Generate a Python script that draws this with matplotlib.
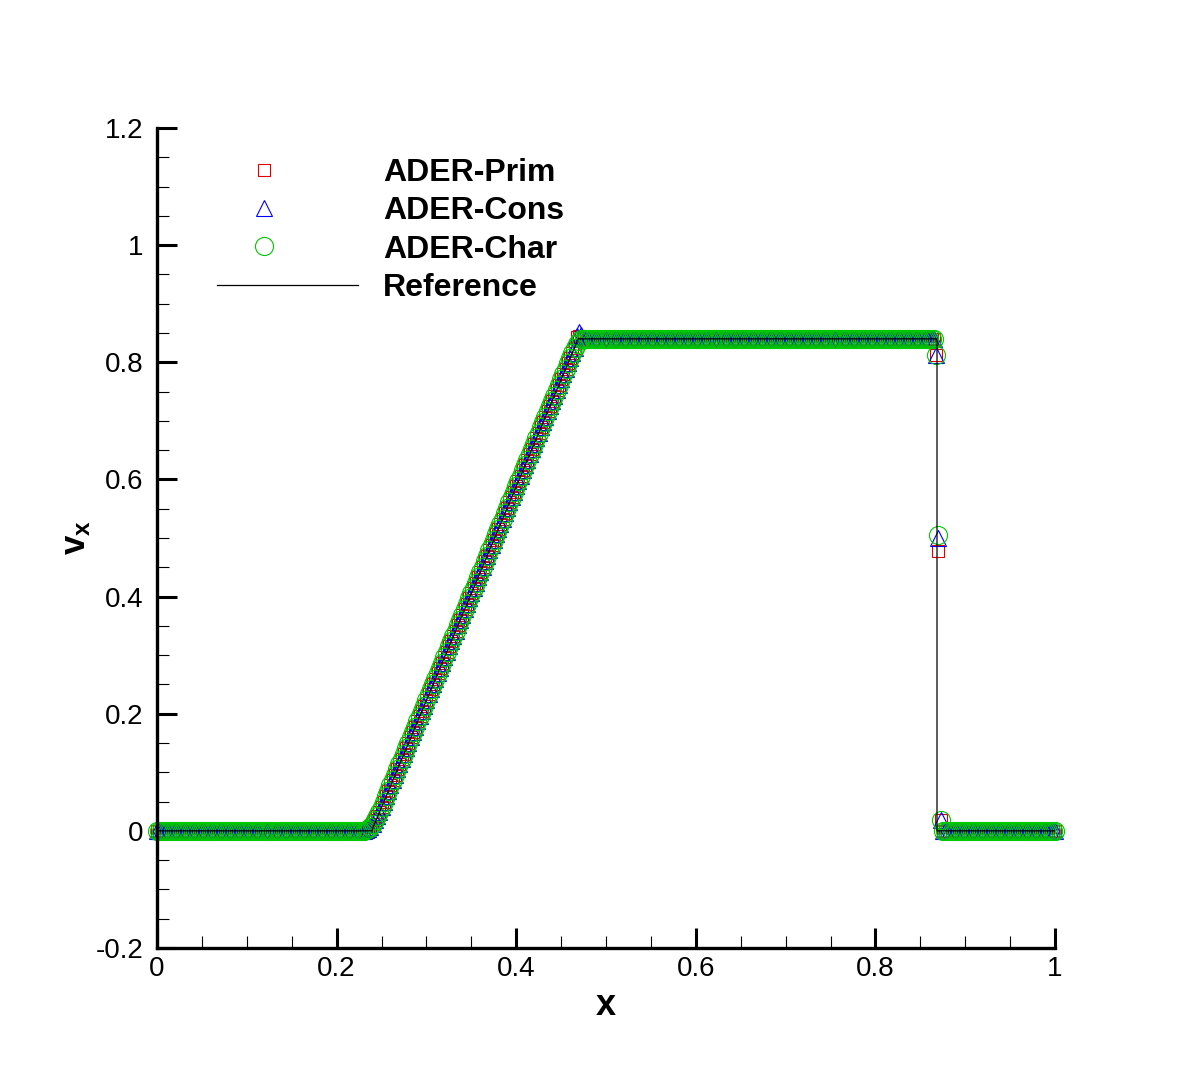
import numpy as np
import matplotlib
matplotlib.use("Agg")
import matplotlib.pyplot as plt
from matplotlib.ticker import MultipleLocator, FormatStrFormatter
from matplotlib.legend_handler import HandlerLine2DCompound

plt.rcParams['font.family'] = ['Liberation Sans', 'DejaVu Sans']
plt.rcParams['mathtext.fontset'] = 'custom'
plt.rcParams['mathtext.rm'] = 'Liberation Sans'
plt.rcParams['mathtext.bf'] = 'Liberation Sans:bold'
plt.rcParams['mathtext.it'] = 'Liberation Sans:italic'
plt.rcParams['axes.unicode_minus'] = False

# ---------------- data ----------------
n_cells = 400
x = np.arange(n_cells + 1) / n_cells

zero_left = [0.0] * 93
ramp = [0.001, 0.003, 0.006, 0.011, 0.018, 0.025,
        0.032, 0.041, 0.050, 0.059, 0.068, 0.078, 0.087, 0.096, 0.105, 0.114,
        0.123, 0.132, 0.141, 0.150, 0.160, 0.169, 0.178, 0.187, 0.196, 0.205,
        0.214, 0.223, 0.233, 0.242, 0.251, 0.260, 0.269, 0.278, 0.287, 0.296,
        0.305, 0.315, 0.324, 0.333, 0.342, 0.351, 0.360, 0.369, 0.378, 0.388,
        0.397, 0.406, 0.415, 0.424, 0.433, 0.442, 0.451, 0.461, 0.470, 0.479,
        0.488, 0.497, 0.506, 0.515, 0.524, 0.533, 0.543, 0.552, 0.561, 0.570,
        0.579, 0.588, 0.597, 0.606, 0.616, 0.625, 0.634, 0.643, 0.652, 0.661,
        0.670, 0.679, 0.689, 0.698, 0.707, 0.716, 0.725, 0.734, 0.743, 0.752,
        0.762, 0.771, 0.780, 0.789, 0.798, 0.807, 0.816, 0.825,
        0.832, 0.837, 0.840]
plateau = [0.840] * 157
zero_right = [0.0] * 51

shock_prim = [0.812, 0.478, 0.018]
shock_cons = [0.812, 0.500, 0.018]
shock_char = [0.812, 0.505, 0.018]

ramp_top_prim = [0.843, 0.845, 0.842]
ramp_top_cons = [0.845, 0.852, 0.846]
ramp_top_char = [0.840, 0.841, 0.840]

v_prim = np.array(zero_left + ramp[:-3] + ramp_top_prim + plateau + shock_prim + zero_right)
v_cons = np.array(zero_left + ramp[:-3] + ramp_top_cons + plateau + shock_cons + zero_right)
v_char = np.array(zero_left + ramp + plateau + shock_char + zero_right)

ref_x = [0.0, 0.239, 0.469, 0.8686, 0.8686, 1.0]
ref_v = [0.0, 0.0, 0.840, 0.840, 0.0, 0.0]


class LeftMarkerHandler(HandlerLine2DCompound):
    def get_xdata(self, legend, xdescent, ydescent, width, height, fontsize):
        xdata, _ = super().get_xdata(legend, xdescent, ydescent, width, height, fontsize)
        return xdata, np.array([-xdescent + 0.336 * width])


# ---------------- figure ----------------
fig = plt.figure(figsize=(12, 10.67), dpi=100)
ax = fig.add_axes([157/1200, 1 - 948/1067, (1055 - 157)/1200, (948 - 128)/1067])

mew = 0.8
h1, = ax.plot(x, v_prim, linestyle='none', marker='s', markersize=9.2,
              markerfacecolor='none', markeredgecolor='#e00000', markeredgewidth=mew,
              label='ADER-Prim', clip_on=False)
h2, = ax.plot(x, v_cons, linestyle='none', marker='^', markersize=12,
              markerfacecolor='none', markeredgecolor='#0000ff', markeredgewidth=mew,
              label='ADER-Cons', clip_on=False)
h3, = ax.plot(x, v_char, linestyle='none', marker='o', markersize=13,
              markerfacecolor='none', markeredgecolor='#00c800', markeredgewidth=mew,
              label='ADER-Char', clip_on=False)
h4, = ax.plot(ref_x, ref_v, color='black', linewidth=0.9, label='Reference', zorder=5)

ax.set_xlim(0, 1)
ax.set_ylim(-0.2, 1.2)

for s in ['top', 'right']:
    ax.spines[s].set_visible(False)
for s in ['left', 'bottom']:
    ax.spines[s].set_linewidth(2.4)

ax.xaxis.set_major_locator(MultipleLocator(0.2))
ax.xaxis.set_minor_locator(MultipleLocator(0.05))
ax.yaxis.set_major_locator(MultipleLocator(0.2))
ax.yaxis.set_minor_locator(MultipleLocator(0.05))
ax.xaxis.set_major_formatter(FormatStrFormatter('%g'))
ax.yaxis.set_major_formatter(FormatStrFormatter('%g'))

ax.tick_params(which='major', direction='in', length=14.5, width=2.2, labelsize=20)
ax.tick_params(which='minor', direction='in', length=8.5, width=0.8)
ax.tick_params(axis='x', which='major', pad=6)
ax.tick_params(axis='y', which='major', pad=10)
ax.tick_params(top=False, right=False, which='both')

ax.set_xlabel('x', fontsize=26, fontweight='bold', labelpad=4)
ax.set_ylabel(r'$\mathbf{v}_\mathbf{x}$', fontsize=25, labelpad=2)

handler = LeftMarkerHandler(numpoints=1)
leg = ax.legend(handles=[h1, h2, h3, h4],
                handler_map={h1: handler, h2: handler, h3: handler},
                loc='upper left', bbox_to_anchor=(217/1200, 1 - 158/1067),
                bbox_transform=fig.transFigure, frameon=False, numpoints=1,
                prop={'family': 'Liberation Sans', 'weight': 'bold', 'size': 23},
                handlelength=4.4, handletextpad=0.8, labelspacing=0.26,
                borderpad=0, borderaxespad=0)

fig.savefig('out.png', dpi=100)
